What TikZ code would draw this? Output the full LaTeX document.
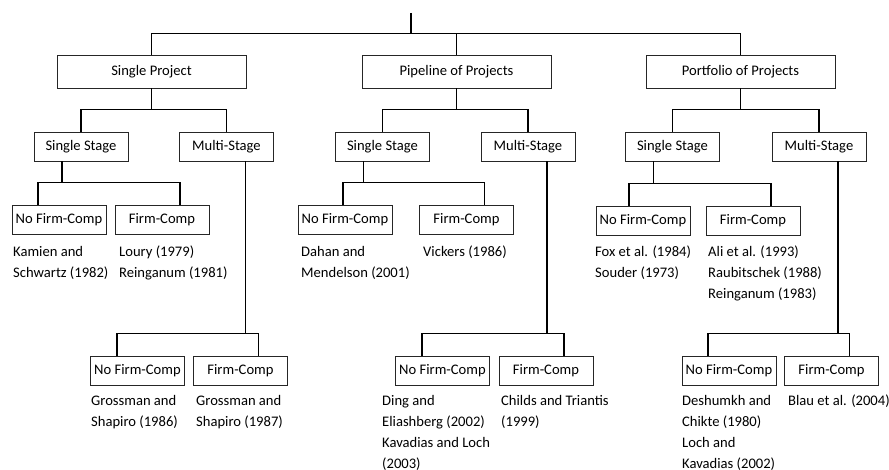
\documentclass[tikz,border=0pt]{standalone}
\usepackage{fontspec}
\setmainfont{Carlito}
\usetikzlibrary{calc}

\begin{document}
\begin{tikzpicture}[
    x=1pt, y=-1pt,
    font=\fontsize{14.6}{21}\selectfont,
    box/.style={draw=black!85, line width=0.9pt, inner sep=0pt, minimum width=94pt, minimum height=29pt},
    topbox/.style={box, minimum width=189pt, minimum height=33pt},
    link/.style={line width=1.9pt},
    refs/.style={anchor=base west, align=left, inner sep=0pt},
  ]
  \useasboundingbox (0,0) rectangle (889,470);
  % project types
  \coordinate (root) at (411,13);
  \node[topbox] (proj1) at (151.5,71.5) {Single Project};
  \node[topbox] (proj2) at (456.5,71.5) {Pipeline of Projects};
  \node[topbox] (proj3) at (740.5,71.5) {Portfolio of Projects};

  % stages
  \node[box] (ss1) at (81,146.5) {Single Stage};
  \node[box] (ms1) at (226.5,146.5) {Multi-Stage};
  \node[box] (ss2) at (382.5,146.5) {Single Stage};
  \node[box] (ms2) at (528,146.5) {Multi-Stage};
  \node[box] (ss3) at (672.5,146.5) {Single Stage};
  \node[box] (ms3) at (819,146.5) {Multi-Stage};

  % competition under single stage
  \node[box] (snf1) at (59,219.5) {No Firm-Comp};
  \node[box] (sfc1) at (162,219.5) {Firm-Comp};
  \node[box] (snf2) at (345,219.5) {No Firm-Comp};
  \node[box] (sfc2) at (466.5,219.5) {Firm-Comp};
  \node[box] (snf3) at (643,220.5) {No Firm-Comp};
  \node[box] (sfc3) at (753,220.5) {Firm-Comp};

  % competition under multi-stage
  \node[box] (mnf1) at (137.5,370.5) {No Firm-Comp};
  \node[box] (mfc1) at (240.5,370.5) {Firm-Comp};
  \node[box] (mnf2) at (442.5,370.5) {No Firm-Comp};
  \node[box] (mfc2) at (546,370.5) {Firm-Comp};
  \node[box] (mnf3) at (729,370.5) {No Firm-Comp};
  \node[box] (mfc3) at (831.5,370.5) {Firm-Comp};

  % references (placed at the baseline of their last line)
  \node[refs] (rsnf1) at (13,278) {Kamien and\\Schwartz (1982)};
  \node[refs] (rsfc1) at (119,278) {Loury (1979)\\Reinganum (1981)};
  \node[refs] (rsnf2) at (301,278) {Dahan and\\Mendelson (2001)};
  \node[refs] (rsfc2) at (423,257) {Vickers (1986)};
  \node[refs] (rsnf3) at (595,278) {Fox et al. (1984)\\Souder (1973)};
  \node[refs] (rsfc3) at (708,299) {Ali et al. (1993)\\Raubitschek (1988)\\Reinganum (1983)};
  \node[refs] (rmnf1) at (91,426) {Grossman and\\Shapiro (1986)};
  \node[refs] (rmfc1) at (196,426) {Grossman and\\Shapiro (1987)};
  \node[refs] (rmnf2) at (382,468) {Ding and\\Eliashberg (2002)\\Kavadias and Loch\\(2003)};
  \node[refs] (rmfc2) at (501,426) {Childs and Triantis\\(1999)};
  \node[refs] (rmnf3) at (682,468) {Deshumkh and\\Chikte (1980)\\Loch and\\Kavadias (2002)};
  \node[refs] (rmfc3) at (788,405) {Blau et al. (2004)};

  % tree lines
  \draw[link] (root) -- ++(0,21);
  \draw[link] (proj1.north) -- ++(0,-21) -| (proj3.north);
  \draw[link] (proj2.north) -- ++(0,-21);
  \foreach \i/\f in {1/.28, 2/.48, 3/.35} {
    \draw[link] (proj\i.south) -- ++(0,22);
    \draw[link] (ss\i.north) -- ++(0,-22) -| (ms\i.north);
    \draw[link] ($(ss\i.south west)!.3!(ss\i.south east)$) -- ++(0,22);
    \draw[link] ($(snf\i.north west)!\f!(snf\i.north east)$) -- ++(0,-22)
      -| ($(sfc\i.north west)!.69!(sfc\i.north east)$);
    \draw[link] ($(ms\i.south west)!.7!(ms\i.south east)$) -- ++(0,173);
    \draw[link] ($(mnf\i.north west)!.28!(mnf\i.north east)$) -- ++(0,-22)
      -| ($(mfc\i.north west)!.69!(mfc\i.north east)$);
  }
\end{tikzpicture}
\end{document}
